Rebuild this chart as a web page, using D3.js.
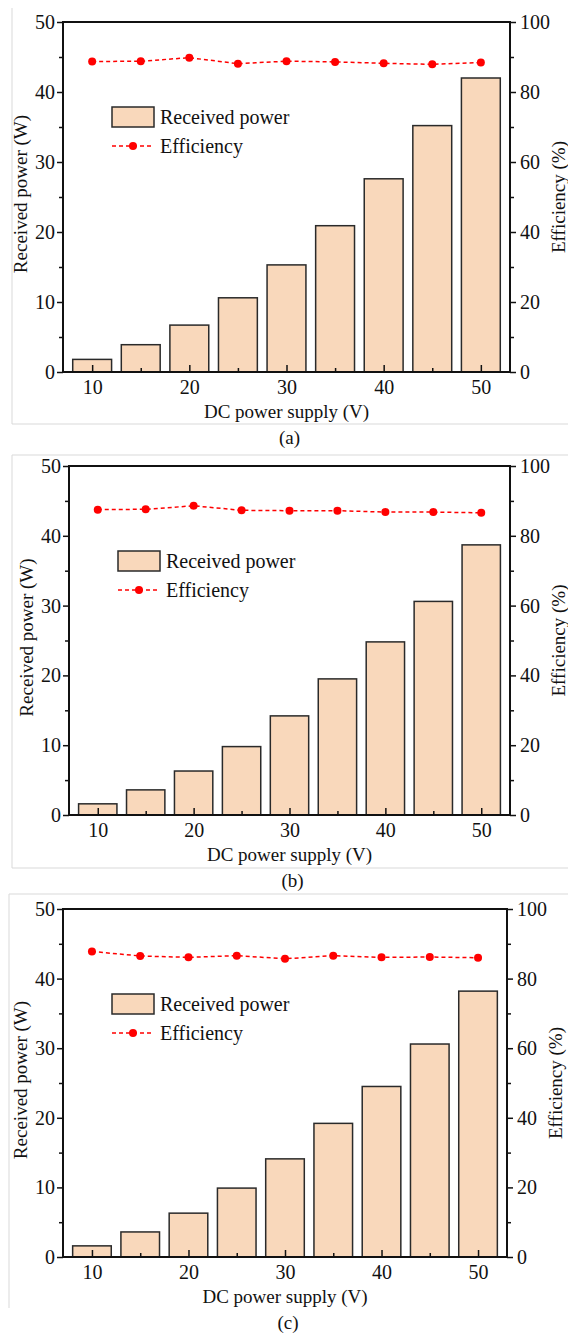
<!DOCTYPE html>
<html>
<head>
<meta charset="utf-8">
<script src="https://cdn.jsdelivr.net/npm/d3@7/dist/d3.min.js"></script>
<style>
  body { margin: 0; background: #fff; }
  svg text { font-family: "Liberation Serif", "Times New Roman", Times, serif !important; fill: #111; }
</style>
</head>
<body>
<div id="chart-area"></div>
<script>
// Data
const voltages = [10, 15, 20, 25, 30, 35, 40, 45, 50];
const powerA = [1.8, 3.9, 6.7, 10.6, 15.3, 20.9, 27.6, 35.2, 42.0];
const effA = [88.7, 88.8, 89.8, 88.1, 88.8, 88.6, 88.2, 87.9, 88.4];
const powerB = [1.6, 3.6, 6.3, 9.8, 14.2, 19.5, 24.8, 30.6, 38.7];
const effB = [87.5, 87.6, 88.6, 87.3, 87.2, 87.2, 86.8, 86.8, 86.6];
const powerC = [1.6, 3.6, 6.3, 9.9, 14.1, 19.2, 24.5, 30.6, 38.2];
const effC = [87.8, 86.5, 86.1, 86.6, 85.7, 86.6, 86.1, 86.2, 86.0];

const xTicks = [10, 20, 30, 40, 50];
const xMinor = [15, 25, 35, 45];
const leftTicks = [0, 10, 20, 30, 40, 50];
const leftMinor = [5, 15, 25, 35, 45];
const rightTicks = [0, 20, 40, 60, 80, 100];
const rightMinor = [10, 30, 50, 70, 90];

const panels = [
    { power: powerA, eff: effA, label: "(a)", left: 63, right: 510, top: 22, bottom: 372,
      frame: { x: 12, top: 8, bottom: 424, showTop: false, showBottom: true } },
    { power: powerB, eff: effB, label: "(b)", left: 69, right: 510, top: 466, bottom: 815,
      frame: { x: 12, top: 455, bottom: 868, showTop: true, showBottom: true } },
    { power: powerC, eff: effC, label: "(c)", left: 63, right: 507, top: 909, bottom: 1257,
      frame: { x: 9, top: 894, bottom: 1308, showTop: true, showBottom: false } },
];

const W = 568, H = 1334;
const barFill = "#f9d8bb";
const red = "#ff0000";

const svg = d3.select("#chart-area").append("svg")
    .attr("width", W).attr("height", H);

panels.forEach((p) => {
    const g = svg.append("g");

    //Gray frame around the sub-figure
    const fr = p.frame;
    g.append("line").attr("x1", fr.x).attr("x2", fr.x).attr("y1", fr.top).attr("y2", fr.bottom)
        .attr("stroke", "#d9d9d9");
    if (fr.showTop) g.append("line").attr("x1", fr.x).attr("x2", W).attr("y1", fr.top).attr("y2", fr.top)
        .attr("stroke", "#d9d9d9");
    if (fr.showBottom) g.append("line").attr("x1", fr.x).attr("x2", W).attr("y1", fr.bottom).attr("y2", fr.bottom)
        .attr("stroke", "#d9d9d9");

    //Scales
    const x = d3.scaleLinear().domain([7, 53]).range([p.left, p.right]);
    const yL = d3.scaleLinear().domain([0, 50]).range([p.bottom, p.top]);
    const yR = d3.scaleLinear().domain([0, 100]).range([p.bottom, p.top]);
    const barW = x(4) - x(0);

    //Bars
    g.selectAll("rect.bar").data(voltages).enter().append("rect")
        .attr("class", "bar")
        .attr("x", (d) => x(d) - barW / 2)
        .attr("width", barW)
        .attr("y", (d, i) => yL(p.power[i]))
        .attr("height", (d, i) => yL(0) - yL(p.power[i]))
        .attr("fill", barFill)
        .attr("stroke", "#2a2a2a")
        .attr("stroke-width", 1.5);

    //Efficiency line
    const line = d3.line().x((d) => x(d)).y((d, i) => yR(p.eff[i]));
    g.append("path").datum(voltages)
        .attr("d", line)
        .attr("fill", "none")
        .attr("stroke", red)
        .attr("stroke-width", 1.5)
        .attr("stroke-dasharray", "4,3");
    g.selectAll("circle.eff").data(voltages).enter().append("circle")
        .attr("class", "eff")
        .attr("cx", (d) => x(d))
        .attr("cy", (d, i) => yR(p.eff[i]))
        .attr("r", 4)
        .attr("fill", red);

    //Axes
    const styleAxis = (sel) => {
        sel.select(".domain").remove();
        sel.selectAll(".tick line").attr("stroke", "#111").attr("stroke-width", 1.5);
        sel.selectAll(".tick text").attr("font-size", "20px").attr("fill", "#111");
    };

    g.append("g").attr("transform", `translate(${p.left},0)`)
        .call(d3.axisLeft(yL).tickValues(leftTicks).tickSize(6).tickPadding(2))
        .call(styleAxis);
    g.append("g").attr("transform", `translate(${p.left},0)`)
        .call(d3.axisLeft(yL).tickValues(leftMinor).tickSize(4).tickFormat(""))
        .call(styleAxis);
    g.append("g").attr("transform", `translate(${p.right},0)`)
        .call(d3.axisRight(yR).tickValues(rightTicks).tickSize(6).tickPadding(4))
        .call(styleAxis);
    g.append("g").attr("transform", `translate(${p.right},0)`)
        .call(d3.axisRight(yR).tickValues(rightMinor).tickSize(4).tickFormat(""))
        .call(styleAxis);
    g.append("g").attr("transform", `translate(0,${p.bottom})`)
        .call(d3.axisBottom(x).tickValues(xTicks).tickSize(-7).tickPadding(8))
        .call(styleAxis);
    g.append("g").attr("transform", `translate(0,${p.bottom})`)
        .call(d3.axisBottom(x).tickValues(xMinor).tickSize(-4).tickFormat(""))
        .call(styleAxis);

    //Plot frame
    g.append("rect")
        .attr("x", p.left).attr("y", p.top)
        .attr("width", p.right - p.left).attr("height", p.bottom - p.top)
        .attr("fill", "none").attr("stroke", "#111").attr("stroke-width", 2);

    //Axis titles
    const midY = (p.top + p.bottom) / 2;
    g.append("text")
        .attr("x", (p.left + p.right) / 2).attr("y", p.bottom + 46)
        .attr("text-anchor", "middle").attr("font-size", "19px")
        .text("DC power supply (V)");
    g.append("text")
        .attr("transform", `translate(${p.left - 36},${midY - 3}) rotate(-90)`)
        .attr("text-anchor", "middle").attr("font-size", "19px")
        .text("Received power (W)");
    g.append("text")
        .attr("transform", `translate(${p.right + 55},${midY}) rotate(-90)`)
        .attr("text-anchor", "middle").attr("font-size", "19px")
        .text("Efficiency (%)");
    g.append("text")
        .attr("x", (p.left + p.right) / 2 + 3).attr("y", p.bottom + 72)
        .attr("text-anchor", "middle").attr("font-size", "19px")
        .text(p.label);

    //Legend
    const lg = g.append("g").attr("transform", `translate(${p.left + 49},${p.top + 85})`);
    lg.append("rect").attr("width", 42).attr("height", 20)
        .attr("fill", barFill).attr("stroke", "#2a2a2a").attr("stroke-width", 1.5);
    lg.append("text").attr("x", 48).attr("y", 17).attr("font-size", "20px").text("Received power");
    lg.append("line").attr("x1", 0).attr("x2", 42).attr("y1", 39).attr("y2", 39)
        .attr("stroke", red).attr("stroke-width", 1.5).attr("stroke-dasharray", "4,3");
    lg.append("circle").attr("cx", 21).attr("cy", 39).attr("r", 4).attr("fill", red);
    lg.append("text").attr("x", 48).attr("y", 46).attr("font-size", "20px").text("Efficiency");
});
</script>
</body>
</html>
